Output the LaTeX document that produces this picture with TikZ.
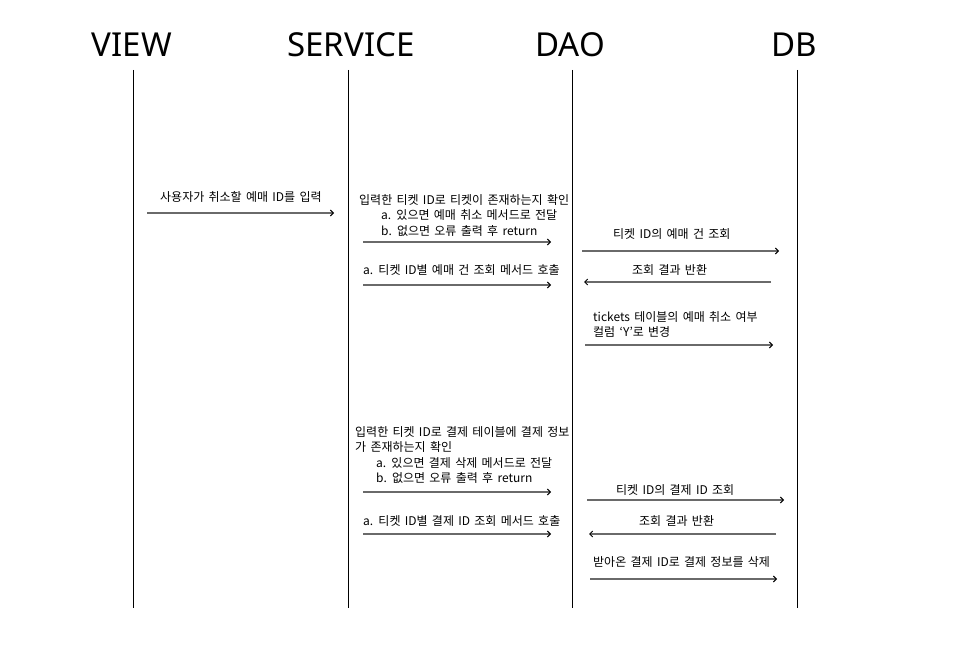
\documentclass[tikz,border=0pt]{standalone}
\usepackage{fontspec}
\setmainfont{Noto Sans CJK KR}[WordSpace=1.6]
\newfontfamily\titlefont{Noto Sans}
\usetikzlibrary{arrows.meta}
\definecolor{msgline}{HTML}{6A6A6A}
\tikzset{
  lifeline/.style={draw=black, line width=1pt},
  title/.style={font=\titlefont\fontsize{33}{36}\selectfont, anchor=base, inner sep=0},
  lbl/.style={font=\fontsize{12}{14}\selectfont, anchor=base west, inner sep=0},
  msg/.style={draw=msgline, line width=1.6pt, -{Straight Barb[length=3pt,width=6pt,line width=1pt,color=black]}},
}
\begin{document}
\begin{tikzpicture}[x=1pt,y=-1pt]
\useasboundingbox (0,0) rectangle (966,660);
% titles
\node[title] (tview) at (132,57) {VIEW};
\node[title] (tserv) at (351,57) {SERVICE};
\node[title] (tdao) at (570,57) {DAO};
\node[title] (tdb) at (794,57) {DB};
% lifelines
\coordinate (v1) at (133,70); \coordinate (v2) at (133,608);
\coordinate (s1) at (348,70); \coordinate (s2) at (348,608);
\coordinate (d1) at (572,70); \coordinate (d2) at (572,608);
\coordinate (b1) at (797,70); \coordinate (b2) at (797,608);
\draw[lifeline] (v1) -- (v2);
\draw[lifeline] (s1) -- (s2);
\draw[lifeline] (d1) -- (d2);
\draw[lifeline] (b1) -- (b2);

% message 1
\node[lbl] (l1) at (160,202) {사용자가 취소할 예매 ID를 입력};
\coordinate (m1a) at (147,213); \coordinate (m1b) at (334,213);
\draw[msg] (m1a) -- (m1b);

% service block 1
\node[lbl] (l2a) at (359,205) {입력한 티켓 ID로 티켓이 존재하는지 확인};
\node[lbl] (l2b) at (381,220) {a. 있으면 예매 취소 메서드로 전달};
\node[lbl] (l2c) at (381,236) {b. 없으면 오류 출력 후 return};
\coordinate (m2a) at (363,242); \coordinate (m2b) at (551,242);
\draw[msg] (m2a) -- (m2b);

\node[lbl] (l3) at (363,275) {a. 티켓 ID별 예매 건 조회 메서드 호출};
\coordinate (m3a) at (363,285); \coordinate (m3b) at (551,285);
\draw[msg] (m3a) -- (m3b);

% DAO <-> DB block 1
\node[lbl] (l4) at (613,239) {티켓 ID의 예매 건 조회};
\coordinate (m4a) at (582,251); \coordinate (m4b) at (779,251);
\draw[msg] (m4a) -- (m4b);

\node[lbl] (l5) at (632,275) {조회 결과 반환};
\coordinate (m5a) at (771,282); \coordinate (m5b) at (584,282);
\draw[msg] (m5a) -- (m5b);

\node[lbl] (l6a) at (593,321) {tickets 테이블의 예매 취소 여부};
\node[lbl] (l6b) at (593,336) {컬럼 ‘Y’로 변경};
\coordinate (m6a) at (585,345); \coordinate (m6b) at (773,345);
\draw[msg] (m6a) -- (m6b);

% service block 2
\node[lbl] (l7a) at (355,436) {입력한 티켓 ID로 결제 테이블에 결제 정보};
\node[lbl] (l7b) at (355,451) {가 존재하는지 확인};
\node[lbl] (l7c) at (376,467) {a. 있으면 결제 삭제 메서드로 전달};
\node[lbl] (l7d) at (376,482) {b. 없으면 오류 출력 후 return};
\coordinate (m7a) at (363,492); \coordinate (m7b) at (551,492);
\draw[msg] (m7a) -- (m7b);

\node[lbl] (l8) at (363,525) {a. 티켓 ID별 결제 ID 조회 메서드 호출};
\coordinate (m8a) at (363,534); \coordinate (m8b) at (551,534);
\draw[msg] (m8a) -- (m8b);

% DAO <-> DB block 2
\node[lbl] (l9) at (616,494) {티켓 ID의 결제 ID 조회};
\coordinate (m9a) at (587,500); \coordinate (m9b) at (784,500);
\draw[msg] (m9a) -- (m9b);

\node[lbl] (l10) at (639,525) {조회 결과 반환};
\coordinate (m10a) at (776,534); \coordinate (m10b) at (589,534);
\draw[msg] (m10a) -- (m10b);

\node[lbl] (l11) at (593,566) {받아온 결제 ID로 결제 정보를 삭제};
\coordinate (m11a) at (590,579); \coordinate (m11b) at (777,579);
\draw[msg] (m11a) -- (m11b);
\end{tikzpicture}
\end{document}
